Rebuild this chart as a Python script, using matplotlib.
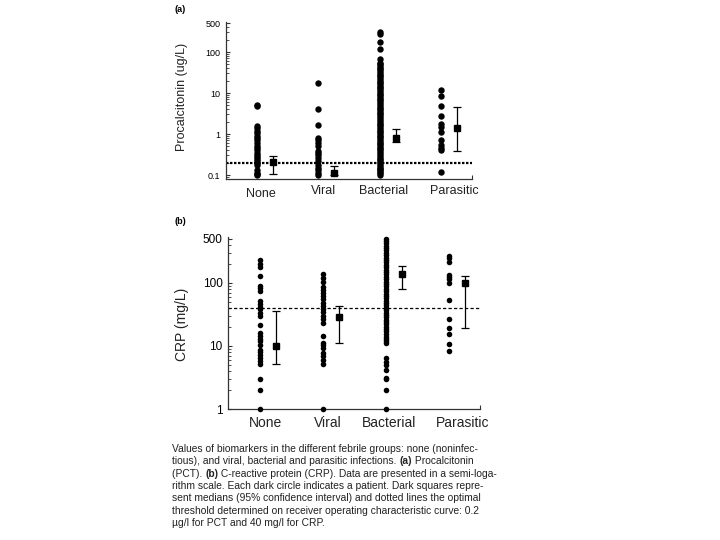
import numpy as np
import matplotlib
matplotlib.use('Agg')
import matplotlib.pyplot as plt
from matplotlib.ticker import NullFormatter

plt.rcParams['font.family'] = ['Liberation Sans', 'DejaVu Sans']

categories = ['None', 'Viral', 'Bacterial', 'Parasitic']

# (a) procalcitonin, ug/L
pct_none = [5.0, 4.7, 1.6, 1.4, 1.2, 1.05, 0.92, 0.8, 0.7, 0.6, 0.52, 0.46,
            0.4, 0.35, 0.3, 0.27, 0.24, 0.22, 0.2, 0.18, 0.13, 0.115, 0.105, 0.1]
pct_viral = [17.5, 4.0, 1.7, 0.8, 0.7, 0.6, 0.5, 0.38, 0.34, 0.3, 0.26, 0.22,
             0.18, 0.15, 0.13, 0.115, 0.1]
pct_bact = [0.10, 0.11, 0.12, 0.13, 0.14, 0.15, 0.17, 0.19, 0.21, 0.23, 0.25,
            0.28, 0.31, 0.34, 0.38, 0.42, 0.46, 0.51, 0.56, 0.62, 0.68, 0.75,
            0.83, 0.92, 1.0, 1.1, 1.2, 1.35, 1.5, 1.65, 1.8, 2.0, 2.2, 2.45,
            2.7, 3.0, 3.3, 3.65, 4.0, 4.4, 4.9, 5.4, 6.0, 6.6, 7.3, 8.0, 8.8,
            9.7, 10.7, 11.8, 13, 14.3, 15.8, 17.4, 19, 21, 23, 25.5, 28, 31,
            34, 37.5, 41, 45, 50, 54, 67, 118, 178, 280, 310]
pct_para = [11.8, 8.7, 4.8, 2.75, 1.8, 1.45, 1.1, 0.7, 0.55, 0.46, 0.41, 0.12]
pct_median = [0.21, 0.11, 0.8, 1.4]
pct_low = [0.105, 0.1, 0.64, 0.38]
pct_high = [0.29, 0.165, 1.36, 4.6]
pct_threshold = 0.2

# (b) CRP, mg/L
crp_none = [232, 198, 177, 129, 90, 82, 75, 52, 46, 41, 38, 34, 30, 21.5, 16,
            14.4, 12.9, 12, 10.4, 8.6, 7.9, 7.2, 6.5, 5.8, 5.1, 3.0, 2.0, 1.0]
crp_viral = [137, 121, 105, 85, 77, 70, 63, 56, 49, 43, 39, 35, 30, 26.5, 23,
             14.4, 11.3, 10.4, 9.2, 7.8, 6.9, 6.0, 5.1, 1.0]
crp_bact = [495, 460, 425, 390, 360, 330, 300, 276, 253, 232, 213, 195, 178,
            163, 150, 137, 125, 115, 105, 96, 88, 81, 74, 68, 62, 57, 52, 48,
            44, 40, 37, 34, 31, 28.5, 26, 24, 22, 20, 18.5, 17, 15.5, 14, 13,
            12, 11, 6.4, 5.5, 5.0, 4.2, 3.1, 3.0, 2.0, 1.0]
crp_para = [268, 247, 218, 134, 126, 114, 101, 54, 26.5, 19, 15.3, 10.6, 8.4]
crp_median = [10, 29, 138, 99]
crp_low = [5.1, 11.3, 80, 19]
crp_high = [36, 43, 186, 131]
crp_threshold = 40

# caption lines; in the split lines the middle piece is bold
caption = [
    ["Values of biomarkers in the different febrile groups: none (noninfec-"],
    ["tious), and viral, bacterial and parasitic infections. ", "(a)", " Procalcitonin"],
    ["(PCT). ", "(b)", " C-reactive protein (CRP). Data are presented in a semi-loga-"],
    ["rithm scale. Each dark circle indicates a patient. Dark squares repre-"],
    ["sent medians (95% confidence interval) and dotted lines the optimal"],
    ["threshold determined on receiver operating characteristic curve: 0.2"],
    ["\u00b5g/l for PCT and 40 mg/l for CRP."],
]


def draw_panel(ax, groups, med, lo, hi, thr, ms, tick_vals, tick_fs,
               label_fs, label_dx, label_dy, thr_style):
    for i, vals in enumerate(groups):
        ax.plot(np.full(len(vals), i + 0.5), vals, 'o', color='black',
                ms=ms, mew=0, clip_on=False, zorder=3)
    med = np.array(med)
    err = [med - np.array(lo), np.array(hi) - med]
    ax.errorbar(np.arange(len(groups)) + 0.76, med, yerr=err, fmt='s',
                color='black', ms=4.6, capsize=3, elinewidth=0.9,
                capthick=0.9, clip_on=False, zorder=3)
    ax.axhline(thr, color='black', zorder=2, **thr_style)

    ax.set_yscale('log')
    ax.set_xlim(0, 4)
    ax.set_yticks(tick_vals)
    ax.set_yticklabels([('%g' % v) for v in tick_vals], fontsize=tick_fs)
    ax.yaxis.set_minor_formatter(NullFormatter())
    ax.tick_params(axis='y', which='major', direction='in', length=3,
                   width=0.8, pad=4, color='#333333')
    ax.tick_params(axis='y', which='minor', direction='in', length=2,
                   width=0.6, color='#333333')
    ax.set_xticks([])
    ax.set_xticks([4], minor=True)
    ax.tick_params(axis='x', which='minor', direction='in', length=3,
                   width=0.8, color='#333333')
    for s in ['top', 'right']:
        ax.spines[s].set_visible(False)
    for s in ['left', 'bottom']:
        ax.spines[s].set_color('#333333')
        ax.spines[s].set_linewidth(0.9)

    for i, name in enumerate(categories):
        ax.annotate(name, xy=(i + label_dx[i], 0),
                    xycoords=('data', 'axes fraction'),
                    xytext=(0, -label_dy[i]), textcoords='offset pixels',
                    ha='center', va='center', fontsize=label_fs,
                    color='#222222')


fig = plt.figure(figsize=(7.2, 5.4), dpi=100)

ax_a = fig.add_axes([226 / 720, 1 - 179 / 540, 246 / 720, 157 / 540])
draw_panel(ax_a, [pct_none, pct_viral, pct_bact, pct_para],
           pct_median, pct_low, pct_high, pct_threshold, ms=4.6,
           tick_vals=[0.1, 1, 10, 100, 500], tick_fs=6.5, label_fs=9,
           label_dx=[0.57, 0.58, 0.57, 0.71],
           label_dy=[15, 12, 12, 12],
           thr_style=dict(lw=1.6, ls=(0, (1.1, 0.7))))
ax_a.set_ylim(0.08, 540)

ax_b = fig.add_axes([228 / 720, 1 - 409 / 540, 252 / 720, 172 / 540])
draw_panel(ax_b, [crp_none, crp_viral, crp_bact, crp_para],
           crp_median, crp_low, crp_high, crp_threshold, ms=4.0,
           tick_vals=[1, 10, 100, 500], tick_fs=8.5, label_fs=10,
           label_dx=[0.59, 0.59, 0.56, 0.73],
           label_dy=[14, 14, 14, 14],
           thr_style=dict(lw=0.9, ls=(0, (2.6, 1.8))))
ax_b.set_ylim(1, 537)

fig.text(182 / 720, 1 - 97 / 540, 'Procalcitonin (ug/L)', rotation=90,
         ha='center', va='center', fontsize=9, color='#222222')
fig.text(182 / 720, 1 - 324 / 540, 'CRP (mg/L)', rotation=90,
         ha='center', va='center', fontsize=10, color='#222222')
fig.text(180 / 720, 1 - 10 / 540, '(a)', ha='center', va='center',
         fontsize=6.5, fontweight='bold')
fig.text(180 / 720, 1 - 222 / 540, '(b)', ha='center', va='center',
         fontsize=6.5, fontweight='bold')

# caption: each line starts at the left, later pieces chained to the previous one
cap_fs = 7.4
for k, parts in enumerate(caption):
    fy = 1 - (449 + k * 12.33) / 540
    prev = fig.text(172 / 720, fy, parts[0], ha='left', va='center',
                    fontsize=cap_fs, color='#222222')
    for j, part in enumerate(parts[1:]):
        prev = ax_b.annotate(part, xy=(1, 0), xycoords=prev,
                             ha='left', va='bottom', fontsize=cap_fs,
                             color='#222222',
                             fontweight='bold' if j == 0 else 'normal')

fig.savefig('out.png', dpi=100)
